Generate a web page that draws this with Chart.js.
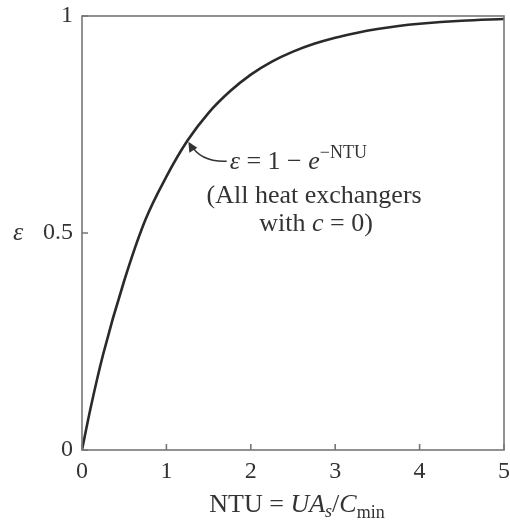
<!DOCTYPE html>
<html>
<head>
<meta charset="utf-8">
<script src="https://cdn.jsdelivr.net/npm/chart.js@4/dist/chart.umd.min.js"></script>
<style>
  html, body { margin: 0; padding: 0; background: #fff; }
  #wrap { width: 510px; height: 527px; position: relative; }
</style>
</head>
<body>
<div id="wrap"><canvas id="c"></canvas></div>
<script>
// values
const ntuValues = [0, 0.1, 0.25, 0.5, 0.75, 1.0, 1.25, 1.5, 1.75, 2.0, 2.25, 2.5, 2.75, 3.0, 3.25, 3.5, 3.75, 4.0, 4.5, 5.0];
const effValues = [0, 0.095, 0.22, 0.39, 0.53, 0.63, 0.713, 0.777, 0.826, 0.865, 0.895, 0.918, 0.936, 0.95, 0.961, 0.97, 0.977, 0.982, 0.989, 0.993];

const xTicks = [0, 1, 2, 3, 4, 5];
const yTicks = [0, 0.5, 1];
const yTickLabels = ['0', '0.5', '1'];

const FONT = "'Liberation Serif', 'DejaVu Serif', serif";
const INK = '#333';
const AXIS = '#777';

// draws text pieces in a row, returns total width
function runText(ctx, parts, x0, y0, center) {
  let w = 0;
  parts.forEach(p => { ctx.font = p.f; w += ctx.measureText(p.t).width; });
  let cx = center ? x0 - w / 2 : x0;
  parts.forEach(p => {
    ctx.font = p.f;
    ctx.fillText(p.t, cx, y0 + (p.dy || 0));
    cx += ctx.measureText(p.t).width;
  });
  return w;
}

// box, inward ticks, labels and the annotation
const decor = {
  id: 'decor',
  afterDraw(chart) {
    const { ctx, chartArea: a, scales: { x, y } } = chart;
    ctx.save();
    ctx.strokeStyle = AXIS;
    ctx.lineWidth = 1.6;
    ctx.strokeRect(a.left, a.top, a.right - a.left, a.bottom - a.top);

    ctx.beginPath();
    xTicks.forEach(v => {
      const px = x.getPixelForValue(v);
      ctx.moveTo(px, a.bottom); ctx.lineTo(px, a.bottom - 6);
    });
    yTicks.forEach(v => {
      const py = y.getPixelForValue(v);
      ctx.moveTo(a.left, py); ctx.lineTo(a.left + 6, py);
    });
    ctx.stroke();

    ctx.fillStyle = INK;
    ctx.font = '24px ' + FONT;
    ctx.textAlign = 'center';
    ctx.textBaseline = 'middle';
    xTicks.forEach(v => ctx.fillText(String(v), x.getPixelForValue(v), a.bottom + 22));
    ctx.textAlign = 'right';
    yTicks.forEach((v, i) => ctx.fillText(yTickLabels[i], a.left - 9, y.getPixelForValue(v)));

    // y label
    ctx.textAlign = 'center';
    ctx.font = 'italic 26px ' + FONT;
    ctx.fillText('ε', 18, y.getPixelForValue(0.5));

    // x title  NTU = UA_s/C_min
    ctx.textBaseline = 'alphabetic';
    ctx.textAlign = 'left';
    runText(ctx, [
      { t: 'NTU = ', f: '26px ' + FONT },
      { t: 'UA', f: 'italic 26px ' + FONT },
      { t: 's', f: 'italic 18px ' + FONT, dy: 5 },
      { t: '/', f: '26px ' + FONT },
      { t: 'C', f: 'italic 26px ' + FONT },
      { t: 'min', f: '18px ' + FONT, dy: 6 },
    ], (a.left + a.right) / 2 + 4, 512, true);

    // annotation arrow
    const tipX = x.getPixelForValue(1.26), tipY = y.getPixelForValue(0.71);
    const tx = x.getPixelForValue(1.75), ty = y.getPixelForValue(0.647);
    ctx.strokeStyle = INK;
    ctx.lineWidth = 1.5;
    ctx.beginPath();
    ctx.moveTo(tx - 3, ty - 8);
    ctx.quadraticCurveTo(tipX + 12, ty - 7, tipX + 2, tipY + 2);
    ctx.stroke();
    ctx.fillStyle = INK;
    ctx.beginPath();
    ctx.moveTo(tipX, tipY);
    ctx.lineTo(tipX + 1, tipY + 11);
    ctx.lineTo(tipX + 9, tipY + 6);
    ctx.closePath();
    ctx.fill();

    runText(ctx, [
      { t: 'ε', f: 'italic 26px ' + FONT },
      { t: ' = 1 − ', f: '26px ' + FONT },
      { t: 'e', f: 'italic 26px ' + FONT },
      { t: '−NTU', f: '18px ' + FONT, dy: -11 },
    ], tx, ty, false);

    const mid = x.getPixelForValue(2.75);
    runText(ctx, [{ t: '(All heat exchangers', f: '26px ' + FONT }], mid, y.getPixelForValue(0.57), true);
    runText(ctx, [
      { t: 'with ', f: '26px ' + FONT },
      { t: 'c', f: 'italic 26px ' + FONT },
      { t: ' = 0)', f: '26px ' + FONT },
    ], mid + 2, y.getPixelForValue(0.505), true);
    ctx.restore();
  }
};

new Chart(document.getElementById('c'), {
  type: 'line',
  data: {
    datasets: [{
      data: ntuValues.map((v, i) => ({ x: v, y: effValues[i] })),
      borderColor: '#2a2a2a',
      borderWidth: 2.6,
      pointRadius: 0,
      cubicInterpolationMode: 'monotone',
      fill: false,
    }],
  },
  options: {
    responsive: true,
    maintainAspectRatio: false,
    animation: false,
    layout: { padding: { top: 16, right: 6, left: 0, bottom: 0 } },
    plugins: { legend: { display: false }, tooltip: { enabled: false } },
    scales: {
      x: {
        type: 'linear', min: 0, max: 5,
        grid: { display: false }, border: { display: false },
        ticks: { display: false },
        afterFit: s => { s.height = 77; },
      },
      y: {
        min: 0, max: 1,
        grid: { display: false }, border: { display: false },
        ticks: { display: false },
        afterFit: s => { s.width = 82; },
      },
    },
  },
  plugins: [decor],
});
</script>
</body>
</html>
